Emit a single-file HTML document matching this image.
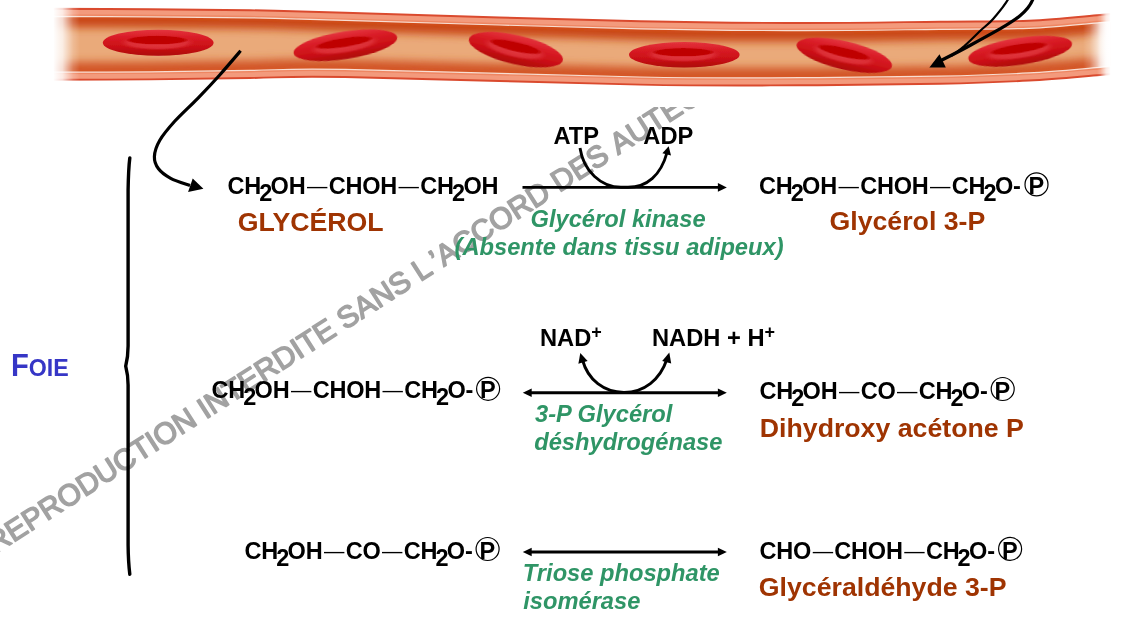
<!DOCTYPE html>
<html lang="fr"><head><meta charset="utf-8"><title>Glycérol</title><style>
html,body{margin:0;padding:0;background:#fff;}
body{width:1129px;height:627px;overflow:hidden;}
svg{display:block;will-change:transform;transform:translateZ(0);-webkit-font-smoothing:antialiased;font-family:"Liberation Sans",Arial,sans-serif;}
.f{font-weight:bold;font-size:23.5px;fill:#000;letter-spacing:-0.2px;font-kerning:none;}
.dash{font-weight:normal;font-size:20.4px;}
.nm{font-weight:bold;font-size:26.7px;fill:#9f3402;}
.co{font-weight:bold;font-size:23.7px;fill:#000;}
.en{font-weight:bold;font-style:italic;font-size:23.7px;fill:#2f9566;}
.foie{font-weight:bold;fill:#3636c6;}
.wm{font-kerning:none;font-size:29.8px;fill:#a2a2a2;stroke:#a2a2a2;stroke-width:1.5;stroke-linejoin:round;}
.ln{fill:none;stroke:#000;stroke-width:2.9;stroke-linecap:butt;}
</style></head><body>
<svg width="1129" height="627" viewBox="0 0 1129 627">
<defs>
<linearGradient id="fadeL" x1="0" y1="0" x2="1" y2="0">
 <stop offset="0" stop-color="#fff" stop-opacity="1"/>
 <stop offset="0.35" stop-color="#fff" stop-opacity="0.8"/>
 <stop offset="0.75" stop-color="#fff" stop-opacity="0.2"/>
 <stop offset="1" stop-color="#fff" stop-opacity="0"/>
</linearGradient>
<linearGradient id="fadeR" x1="0" y1="0" x2="1" y2="0">
 <stop offset="0" stop-color="#fff" stop-opacity="0"/>
 <stop offset="0.25" stop-color="#fff" stop-opacity="0.2"/>
 <stop offset="0.65" stop-color="#fff" stop-opacity="0.8"/>
 <stop offset="1" stop-color="#fff" stop-opacity="1"/>
</linearGradient>
<linearGradient id="rbcO" x1="0" y1="0" x2="0" y2="1">
 <stop offset="0" stop-color="#e4343e"/>
 <stop offset="0.3" stop-color="#d91c26"/>
 <stop offset="0.65" stop-color="#cb1016"/>
 <stop offset="1" stop-color="#ae060a"/>
</linearGradient>
<radialGradient id="rbcRim" cx="0.5" cy="0.5" r="0.5">
 <stop offset="0" stop-color="#e23a42" stop-opacity="1"/>
 <stop offset="0.75" stop-color="#de323a" stop-opacity="0.85"/>
 <stop offset="1" stop-color="#d8242c" stop-opacity="0"/>
</radialGradient>
<radialGradient id="rbcIn" cx="0.5" cy="0.5" r="0.5">
 <stop offset="0" stop-color="#be0000"/>
 <stop offset="0.85" stop-color="#c00202"/>
 <stop offset="1" stop-color="#c80a0e" stop-opacity="0.5"/>
</radialGradient>
<filter id="b5" x="-5%" y="-300%" width="110%" height="700%"><feGaussianBlur stdDeviation="4.5"/></filter>
<filter id="b2" x="-5%" y="-300%" width="110%" height="700%"><feGaussianBlur stdDeviation="1.2"/></filter>
<filter id="b1" x="-10%" y="-30%" width="120%" height="160%"><feGaussianBlur stdDeviation="0.7"/></filter>
</defs>
<text class="wm" transform="translate(-4.8,554.3) rotate(-32.65)" x="0" y="0">REPRODUCTION INTERDITE SANS L<tspan dx="4.5">’</tspan>ACCORD DES AUTEURS</text>
<rect x="0" y="0" width="1129" height="107" fill="#fff"/>
<path d="M40,8.8 C58.3,8.9 115.0,9.0 150,9.2 C185.0,9.4 217.5,9.6 250,10.2 C282.5,10.8 280.0,11.0 345,12.8 C410.0,14.7 564.2,19.6 640,21.3 C715.8,23.0 750.0,22.9 800,23 C850.0,23.1 901.8,22.1 940,21.7 C978.2,21.3 1002.3,21.8 1029,20.7 C1055.7,19.6 1083.3,16.4 1100,15 C1116.7,13.6 1124.2,12.9 1129,12.5 L1129,72.5 C1124.2,72.9 1116.7,73.7 1100,75 C1083.3,76.3 1055.7,79.0 1029,80.5 C1002.3,82.0 978.2,83.0 940,83.8 C901.8,84.6 850.0,85.2 800,85.3 C750.0,85.4 715.8,86.0 640,84.6 C564.2,83.2 410.0,78.1 345,77 C280.0,75.9 282.5,77.6 250,78 C217.5,78.4 185.0,79.1 150,79.4 C115.0,79.7 58.3,79.7 40,79.8 Z" fill="#f39a7c" stroke="#da4a2e" stroke-width="1.9"/>
<path d="M40,16.4 C58.3,16.5 115.0,16.6 150,16.799999999999997 C185.0,17.0 217.5,17.2 250,17.799999999999997 C282.5,18.4 280.0,18.5 345,20.4 C410.0,22.2 564.2,27.2 640,28.9 C715.8,30.6 750.0,30.5 800,30.6 C850.0,30.7 901.8,29.7 940,29.299999999999997 C978.2,28.9 1002.3,29.4 1029,28.299999999999997 C1055.7,27.2 1083.3,24.0 1100,22.6 C1116.7,21.2 1124.2,20.5 1129,20.1 L1129,64.9 C1124.2,65.3 1116.7,66.1 1100,67.4 C1083.3,68.7 1055.7,71.4 1029,72.9 C1002.3,74.4 978.2,75.4 940,76.2 C901.8,77.0 850.0,77.6 800,77.7 C750.0,77.8 715.8,78.4 640,77.0 C564.2,75.6 410.0,70.5 345,69.4 C280.0,68.3 282.5,70.0 250,70.4 C217.5,70.8 185.0,71.5 150,71.80000000000001 C115.0,72.1 58.3,72.1 40,72.2 Z" fill="none" stroke="#ee8662" stroke-width="4"/>
<clipPath id="lc"><path d="M40,16.4 C58.3,16.5 115.0,16.6 150,16.799999999999997 C185.0,17.0 217.5,17.2 250,17.799999999999997 C282.5,18.4 280.0,18.5 345,20.4 C410.0,22.2 564.2,27.2 640,28.9 C715.8,30.6 750.0,30.5 800,30.6 C850.0,30.7 901.8,29.7 940,29.299999999999997 C978.2,28.9 1002.3,29.4 1029,28.299999999999997 C1055.7,27.2 1083.3,24.0 1100,22.6 C1116.7,21.2 1124.2,20.5 1129,20.1 L1129,64.9 C1124.2,65.3 1116.7,66.1 1100,67.4 C1083.3,68.7 1055.7,71.4 1029,72.9 C1002.3,74.4 978.2,75.4 940,76.2 C901.8,77.0 850.0,77.6 800,77.7 C750.0,77.8 715.8,78.4 640,77.0 C564.2,75.6 410.0,70.5 345,69.4 C280.0,68.3 282.5,70.0 250,70.4 C217.5,70.8 185.0,71.5 150,71.80000000000001 C115.0,72.1 58.3,72.1 40,72.2 Z"/></clipPath>
<path d="M40,16.4 C58.3,16.5 115.0,16.6 150,16.799999999999997 C185.0,17.0 217.5,17.2 250,17.799999999999997 C282.5,18.4 280.0,18.5 345,20.4 C410.0,22.2 564.2,27.2 640,28.9 C715.8,30.6 750.0,30.5 800,30.6 C850.0,30.7 901.8,29.7 940,29.299999999999997 C978.2,28.9 1002.3,29.4 1029,28.299999999999997 C1055.7,27.2 1083.3,24.0 1100,22.6 C1116.7,21.2 1124.2,20.5 1129,20.1 L1129,64.9 C1124.2,65.3 1116.7,66.1 1100,67.4 C1083.3,68.7 1055.7,71.4 1029,72.9 C1002.3,74.4 978.2,75.4 940,76.2 C901.8,77.0 850.0,77.6 800,77.7 C750.0,77.8 715.8,78.4 640,77.0 C564.2,75.6 410.0,70.5 345,69.4 C280.0,68.3 282.5,70.0 250,70.4 C217.5,70.8 185.0,71.5 150,71.80000000000001 C115.0,72.1 58.3,72.1 40,72.2 Z" fill="#eaaa7a"/>
<g clip-path="url(#lc)"><path d="M40,16.4 C58.3,16.5 115.0,16.6 150,16.799999999999997 C185.0,17.0 217.5,17.2 250,17.799999999999997 C282.5,18.4 280.0,18.5 345,20.4 C410.0,22.2 564.2,27.2 640,28.9 C715.8,30.6 750.0,30.5 800,30.6 C850.0,30.7 901.8,29.7 940,29.299999999999997 C978.2,28.9 1002.3,29.4 1029,28.299999999999997 C1055.7,27.2 1083.3,24.0 1100,22.6 C1116.7,21.2 1124.2,20.5 1129,20.1" fill="none" stroke="#c94618" stroke-width="22" filter="url(#b5)"/><path d="M40,72.2 C58.3,72.1 115.0,72.1 150,71.80000000000001 C185.0,71.5 217.5,70.8 250,70.4 C282.5,70.0 280.0,68.3 345,69.4 C410.0,70.5 564.2,75.6 640,77.0 C715.8,78.4 750.0,77.8 800,77.7 C850.0,77.6 901.8,77.0 940,76.2 C978.2,75.4 1002.3,74.4 1029,72.9 C1055.7,71.4 1083.3,68.7 1100,67.4 C1116.7,66.1 1124.2,65.3 1129,64.9" fill="none" stroke="#d25426" stroke-width="20" filter="url(#b5)"/><path d="M40,16.4 C58.3,16.5 115.0,16.6 150,16.799999999999997 C185.0,17.0 217.5,17.2 250,17.799999999999997 C282.5,18.4 280.0,18.5 345,20.4 C410.0,22.2 564.2,27.2 640,28.9 C715.8,30.6 750.0,30.5 800,30.6 C850.0,30.7 901.8,29.7 940,29.299999999999997 C978.2,28.9 1002.3,29.4 1029,28.299999999999997 C1055.7,27.2 1083.3,24.0 1100,22.6 C1116.7,21.2 1124.2,20.5 1129,20.1" fill="none" stroke="#d4501f" stroke-width="4" filter="url(#b2)"/><path d="M40,72.2 C58.3,72.1 115.0,72.1 150,71.80000000000001 C185.0,71.5 217.5,70.8 250,70.4 C282.5,70.0 280.0,68.3 345,69.4 C410.0,70.5 564.2,75.6 640,77.0 C715.8,78.4 750.0,77.8 800,77.7 C850.0,77.6 901.8,77.0 940,76.2 C978.2,75.4 1002.3,74.4 1029,72.9 C1055.7,71.4 1083.3,68.7 1100,67.4 C1116.7,66.1 1124.2,65.3 1129,64.9" fill="none" stroke="#d85a28" stroke-width="3" filter="url(#b2)"/></g>
<path d="M40,16.4 C58.3,16.5 115.0,16.6 150,16.799999999999997 C185.0,17.0 217.5,17.2 250,17.799999999999997 C282.5,18.4 280.0,18.5 345,20.4 C410.0,22.2 564.2,27.2 640,28.9 C715.8,30.6 750.0,30.5 800,30.6 C850.0,30.7 901.8,29.7 940,29.299999999999997 C978.2,28.9 1002.3,29.4 1029,28.299999999999997 C1055.7,27.2 1083.3,24.0 1100,22.6 C1116.7,21.2 1124.2,20.5 1129,20.1 L1129,64.9 C1124.2,65.3 1116.7,66.1 1100,67.4 C1083.3,68.7 1055.7,71.4 1029,72.9 C1002.3,74.4 978.2,75.4 940,76.2 C901.8,77.0 850.0,77.6 800,77.7 C750.0,77.8 715.8,78.4 640,77.0 C564.2,75.6 410.0,70.5 345,69.4 C280.0,68.3 282.5,70.0 250,70.4 C217.5,70.8 185.0,71.5 150,71.80000000000001 C115.0,72.1 58.3,72.1 40,72.2 Z" fill="none" stroke="#f8ddd2" stroke-width="1.2"/>
<g transform="translate(158.2,42.7) rotate(0)" filter="url(#b1)"><ellipse rx="55.4" ry="13" fill="url(#rbcO)"/><ellipse cx="-1" cy="0.0" rx="38.8" ry="7.5" fill="url(#rbcRim)"/><ellipse cx="-1" cy="-2.6" rx="31.0" ry="4.4" fill="url(#rbcIn)"/></g>
<g transform="translate(345.4,45.2) rotate(-8.8)" filter="url(#b1)"><ellipse rx="52.4" ry="13.8" fill="url(#rbcO)"/><ellipse cx="-1" cy="0.0" rx="36.7" ry="8.0" fill="url(#rbcRim)"/><ellipse cx="-1" cy="-2.8" rx="29.3" ry="4.7" fill="url(#rbcIn)"/></g>
<g transform="translate(515.9,49.7) rotate(12.8)" filter="url(#b1)"><ellipse rx="48.1" ry="14.5" fill="url(#rbcO)"/><ellipse cx="-1" cy="0.0" rx="33.7" ry="8.4" fill="url(#rbcRim)"/><ellipse cx="-1" cy="-2.9" rx="26.9" ry="4.9" fill="url(#rbcIn)"/></g>
<g transform="translate(684.3,54.7) rotate(0)" filter="url(#b1)"><ellipse rx="55.3" ry="12.7" fill="url(#rbcO)"/><ellipse cx="-1" cy="0.0" rx="38.7" ry="7.4" fill="url(#rbcRim)"/><ellipse cx="-1" cy="-2.5" rx="31.0" ry="4.3" fill="url(#rbcIn)"/></g>
<g transform="translate(844.3,55.3) rotate(13)" filter="url(#b1)"><ellipse rx="48.9" ry="14" fill="url(#rbcO)"/><ellipse cx="-1" cy="0.0" rx="34.2" ry="8.1" fill="url(#rbcRim)"/><ellipse cx="-1" cy="-2.8" rx="27.4" ry="4.8" fill="url(#rbcIn)"/></g>
<g transform="translate(1020.2,51.2) rotate(-8.5)" filter="url(#b1)"><ellipse rx="52.4" ry="13.5" fill="url(#rbcO)"/><ellipse cx="-1" cy="0.0" rx="36.7" ry="7.8" fill="url(#rbcRim)"/><ellipse cx="-1" cy="-2.7" rx="29.3" ry="4.6" fill="url(#rbcIn)"/></g>
<g clip-path="url(#lc)"><rect x="1083" y="0" width="27" height="100" fill="url(#fadeR)"/></g>
<rect x="53" y="0" width="27" height="100" fill="url(#fadeL)"/><rect x="0" y="0" width="53.5" height="100" fill="#fff"/>
<rect x="1097" y="0" width="14" height="100" fill="url(#fadeR)"/><rect x="1110.5" y="0" width="20" height="100" fill="#fff"/>
<path d="M240.6,50.8 C237.1,54.9 226.6,67.3 219.5,75.2 C212.4,83.1 205.3,90.6 197.8,98.3 C190.3,106.0 181.0,114.3 174.7,121.3 C168.4,128.3 163.2,134.4 159.8,140.3 C156.4,146.2 154.6,151.8 154.4,156.6 C154.2,161.3 155.8,165.2 158.5,168.8 C161.2,172.4 165.4,175.5 170.7,178.3 C175.9,181.1 186.8,184.4 190,185.6" class="ln" style="stroke-width:3.2"/>
<path d="M203.4,188.7 L192.7,178.6 L188.1,192 Z" fill="#000"/>
<path d="M1008.3,-1 C1003,8 998,13 993.3,18.7 C989,24 984,27 980.3,30.8 C975,36 970,41 964.6,45.9 C961,49 957,52.5 951,56" class="ln" style="stroke-width:2.2"/>
<path d="M1033,-1 C1028,12 1015,20 1000.4,28.7 C991,34 982,39 971.7,44.5 C962,50 952,55 940,61" class="ln" style="stroke-width:3.2"/>
<path d="M929.4,67.6 L939.5,54.3 L945.8,67.6 Z" fill="#000"/>
<path d="M129.8,158 C128.8,166 128.3,178 128.1,190 L128.1,346 C128.1,356 127,361 125.7,366.1 C127,371 128.1,376 128.1,385 L128.1,545 C128.2,556 128.8,566 129.8,574.2" class="ln" style="stroke-width:3.4;stroke-linecap:round;stroke-linejoin:miter"/>
<text transform="translate(11,376.2) scale(0.935,1)" x="0" y="0" class="foie"><tspan font-size="31.2">F</tspan><tspan font-size="24.8">OIE</tspan></text>
<text x="227.5" y="194" class="f"><tspan>CH</tspan><tspan dy="7" dx="-1.9">2</tspan><tspan dy="-7" dx="-1.4">OH</tspan><tspan class="dash" dy="-1" dx="1.5">—</tspan><tspan dy="1" dx="1.5">CHOH</tspan><tspan class="dash" dy="-1" dx="1.5">—</tspan><tspan dy="1" dx="1.5">CH</tspan><tspan dy="7" dx="-1.9">2</tspan><tspan dy="-7" dx="-1.4">OH</tspan></text>
<text x="237.8" y="230.6" class="nm">GLYCÉROL</text>
<line x1="522.5" y1="187.4" x2="718" y2="187.4" class="ln"/><path d="M726.8,187.4 L717.9,183.1 L717.9,191.7 Z" fill="#000"/>
<text x="553.5" y="144.3" class="co">ATP</text><text x="643.3" y="144.3" class="co">ADP</text>
<path d="M580,148 C583.5,171 601,187.3 621,187.3 L628,187.3 C647,187.3 661,175 667,152.5" class="ln"/><path d="M668.7,146.2 L662.4,153.2 L671,155.6 Z" fill="#000"/>
<text x="530.5" y="227" class="en">Glycérol kinase</text><text x="454.5" y="254.8" class="en">(Absente dans tissu adipeux)</text>
<text x="759" y="194" class="f"><tspan>CH</tspan><tspan dy="7" dx="-1.9">2</tspan><tspan dy="-7" dx="-1.4">OH</tspan><tspan class="dash" dy="-1" dx="1.5">—</tspan><tspan dy="1" dx="1.5">CHOH</tspan><tspan class="dash" dy="-1" dx="1.5">—</tspan><tspan dy="1" dx="1.5">CH</tspan><tspan dy="7" dx="-1.9">2</tspan><tspan dy="-7" dx="-1.4">O-</tspan></text>
<circle cx="1036.5" cy="184.4" r="11.5" fill="none" stroke="#000" stroke-width="1.2"/><text x="1028.4" y="194" class="f">P</text>
<text x="829.5" y="230.4" class="nm">Glycérol 3-P</text>
<text x="211.5" y="398.4" class="f"><tspan>CH</tspan><tspan dy="7" dx="-1.9">2</tspan><tspan dy="-7" dx="-1.4">OH</tspan><tspan class="dash" dy="-1" dx="1.5">—</tspan><tspan dy="1" dx="1.5">CHOH</tspan><tspan class="dash" dy="-1" dx="1.5">—</tspan><tspan dy="1" dx="1.5">CH</tspan><tspan dy="7" dx="-1.9">2</tspan><tspan dy="-7" dx="-1.4">O-</tspan></text>
<circle cx="488.1" cy="388.79999999999995" r="11.5" fill="none" stroke="#000" stroke-width="1.2"/><text x="480" y="398.4" class="f">P</text>
<line x1="531" y1="392.8" x2="718" y2="392.8" class="ln"/><path d="M726.8,392.8 L717.9,388.5 L717.9,397.1 Z" fill="#000"/><path d="M522.8,392.8 L531.7,388.5 L531.7,397.1 Z" fill="#000"/>
<text x="540" y="345.6" class="co">NAD<tspan dy="-7.8" font-size="18">+</tspan></text><text x="652" y="345.6" class="co">NADH + H<tspan dy="-7.8" font-size="18">+</tspan></text>
<path d="M582.5,360 C588,380 604,392.4 624,392.4 C644,392.4 660,380 667,359" class="ln"/><path d="M669.3,352.6 L662.2,361 L671.2,363.6 Z" fill="#000"/><path d="M580.3,353 L578.4,363.8 L587.6,361 Z" fill="#000"/>
<text x="535" y="422.4" class="en">3-P Glycérol</text><text x="534.2" y="449.8" class="en">déshydrogénase</text>
<text x="759.5" y="398.6" class="f"><tspan>CH</tspan><tspan dy="7" dx="-1.9">2</tspan><tspan dy="-7" dx="-1.4">OH</tspan><tspan class="dash" dy="-1" dx="1.5">—</tspan><tspan dy="1" dx="1.5">CO</tspan><tspan class="dash" dy="-1" dx="1.5">—</tspan><tspan dy="1" dx="1.5">CH</tspan><tspan dy="7" dx="-1.9">2</tspan><tspan dy="-7" dx="-1.4">O-</tspan></text>
<circle cx="1002.7" cy="389.0" r="11.5" fill="none" stroke="#000" stroke-width="1.2"/><text x="994.6" y="398.6" class="f">P</text>
<text x="759.8" y="437.3" class="nm">Dihydroxy acétone P</text>
<text x="244.5" y="558.6" class="f"><tspan>CH</tspan><tspan dy="7" dx="-1.9">2</tspan><tspan dy="-7" dx="-1.4">OH</tspan><tspan class="dash" dy="-1" dx="1.5">—</tspan><tspan dy="1" dx="1.5">CO</tspan><tspan class="dash" dy="-1" dx="1.5">—</tspan><tspan dy="1" dx="1.5">CH</tspan><tspan dy="7" dx="-1.9">2</tspan><tspan dy="-7" dx="-1.4">O-</tspan></text>
<circle cx="487.6" cy="549.0" r="11.5" fill="none" stroke="#000" stroke-width="1.2"/><text x="479.5" y="558.6" class="f">P</text>
<line x1="531" y1="552" x2="718" y2="552" class="ln"/><path d="M726.8,552 L717.9,547.7 L717.9,556.3 Z" fill="#000"/><path d="M522.8,552 L531.7,547.7 L531.7,556.3 Z" fill="#000"/>
<text x="522.8" y="581.4" class="en">Triose phosphate</text><text x="523.2" y="608.6" class="en">isomérase</text>
<text x="759.5" y="558.5" class="f"><tspan>CHO</tspan><tspan class="dash" dy="-1" dx="1.5">—</tspan><tspan dy="1" dx="1.5">CHOH</tspan><tspan class="dash" dy="-1" dx="1.5">—</tspan><tspan dy="1" dx="1.5">CH</tspan><tspan dy="7" dx="-1.9">2</tspan><tspan dy="-7" dx="-1.4">O-</tspan></text>
<circle cx="1010.1" cy="548.9" r="11.5" fill="none" stroke="#000" stroke-width="1.2"/><text x="1002" y="558.5" class="f">P</text>
<text x="758.8" y="596.4" class="nm">Glycéraldéhyde 3-P</text>
</svg>
</body></html>
